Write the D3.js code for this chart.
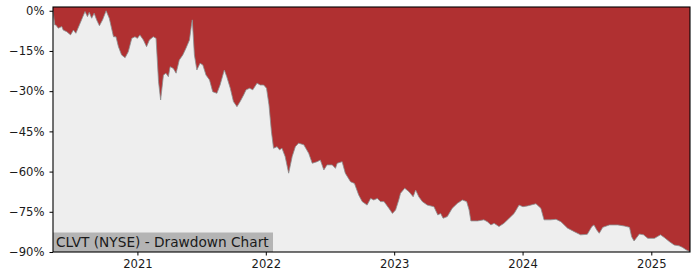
<!DOCTYPE html>
<html>
<head>
<meta charset="utf-8">
<script src="https://cdn.jsdelivr.net/npm/d3@7"></script>
<style>
  body { margin: 0; background: #fff; }
  svg { display: block; font-family: "DejaVu Sans", sans-serif; }
</style>
</head>
<body>
<script>
// Drawdown series (date, percent below running peak)
let dates = [
  "2020-05-06","2020-05-11","2020-05-14","2020-05-21","2020-05-31","2020-06-04","2020-06-14","2020-06-25",
  "2020-07-03","2020-07-10","2020-07-20","2020-07-28","2020-08-05","2020-08-12","2020-08-17","2020-08-24",
  "2020-08-31","2020-09-07","2020-09-15","2020-09-24","2020-10-04","2020-10-13","2020-10-25","2020-11-01",
  "2020-11-08","2020-11-17","2020-11-27","2020-12-06","2020-12-16","2020-12-25","2021-01-01","2021-01-08",
  "2021-01-18","2021-01-27","2021-02-04","2021-02-15","2021-02-23","2021-03-02","2021-03-08","2021-03-16",
  "2021-03-23","2021-03-30","2021-04-04","2021-04-13","2021-04-21","2021-04-30","2021-05-10","2021-05-19",
  "2021-05-29","2021-06-03","2021-06-06","2021-06-12","2021-06-19","2021-06-28","2021-07-06","2021-07-15",
  "2021-07-25","2021-08-03","2021-08-15","2021-08-24","2021-09-05","2021-09-12","2021-09-22","2021-10-01",
  "2021-10-11","2021-10-20","2021-10-30","2021-11-06","2021-11-16","2021-11-25","2021-12-07","2021-12-16",
  "2021-12-26","2022-01-03","2022-01-10","2022-01-17","2022-01-23","2022-02-02","2022-02-09","2022-02-16",
  "2022-02-25","2022-03-07","2022-03-17","2022-03-26","2022-04-04","2022-04-19","2022-05-03","2022-05-13",
  "2022-05-27","2022-06-05","2022-06-15","2022-06-24","2022-07-09","2022-07-18","2022-07-23","2022-08-06",
  "2022-08-15","2022-08-30","2022-09-10","2022-09-22","2022-10-02","2022-10-16","2022-10-26","2022-11-04",
  "2022-11-14","2022-11-23","2022-12-03","2022-12-17","2022-12-27","2023-01-05","2023-01-14","2023-01-19",
  "2023-01-31","2023-02-12","2023-02-24","2023-03-03","2023-03-12","2023-03-22","2023-04-05","2023-04-24",
  "2023-05-05","2023-05-13","2023-05-20","2023-06-01","2023-06-15","2023-06-30","2023-07-14","2023-07-26",
  "2023-08-02","2023-08-07","2023-08-26","2023-09-13","2023-09-23","2023-10-03","2023-10-12","2023-10-26",
  "2023-11-09","2023-11-24","2023-12-08","2023-12-22","2024-01-02","2024-01-15","2024-02-08","2024-02-22",
  "2024-03-02","2024-03-21","2024-04-05","2024-04-19","2024-05-08","2024-05-27","2024-06-14","2024-07-03",
  "2024-07-16","2024-07-22","2024-07-30","2024-08-06","2024-08-16","2024-09-04","2024-09-28","2024-10-16",
  "2024-10-31","2024-11-06","2024-11-13","2024-11-28","2024-12-10","2024-12-22","2025-01-10","2025-01-27",
  "2025-02-07","2025-02-21","2025-03-07","2025-03-21","2025-03-31","2025-04-10","2025-04-21"
];
let drawdown = [
  0, -5.3, -5.3, -6.5, -5.9, -7.2, -7.8, -9.0,
  -7.2, -8.4, -5.3, -2.8, -0.3, -2.2, -0.6, -2.8,
  -0.9, -3.4, -5.6, -3.4, 0, -2.8, -9.7, -9.7,
  -13.4, -16.5, -17.5, -15.3, -10.3, -9.7, -10.3, -9.0,
  -10.9, -13.4, -10.9, -9.7, -10.3, -26.4, -33.3, -24.0,
  -23.3, -24.6, -20.9, -21.5, -23.3, -18.4, -16.5, -14.0,
  -10.9, -6.0, -3.4, -16.5, -22.1, -19.6, -20.2, -24.0,
  -25.8, -30.2, -30.8, -27.7, -22.1, -24.6, -28.9, -33.9,
  -35.8, -33.9, -31.4, -29.5, -28.9, -29.5, -27.0, -27.7,
  -27.7, -28.9, -35.1, -45.1, -51.3, -50.7, -51.9, -51.3,
  -54.4, -60.6, -54.4, -50.7, -49.4, -50.0, -53.2, -56.9,
  -56.3, -55.7, -59.4, -57.5, -57.5, -58.8, -56.9, -56.3,
  -60.6, -63.8, -64.4, -68.7, -71.2, -72.5, -70.0, -70.6,
  -70.0, -71.2, -71.2, -73.7, -75.6, -74.3, -70.6, -68.1,
  -66.2, -67.5, -69.4, -66.9, -69.4, -71.2, -72.5, -73.1,
  -76.2, -75.6, -77.4, -76.8, -73.7, -71.8, -70.6, -71.2,
  -74.3, -78.4, -78.4, -78.0, -78.7, -79.9, -79.3, -80.5,
  -79.3, -77.4, -75.6, -72.5, -73.1, -72.8, -72.0, -73.7,
  -78.0, -78.0, -77.8, -78.7, -81.1, -82.4, -83.6, -83.4,
  -80.5, -79.9, -81.8, -83.0, -80.8, -79.9, -79.9, -80.3,
  -80.8, -84.3, -85.9, -83.3, -83.6, -84.9, -84.9, -83.6,
  -84.6, -86.1, -87.4, -87.7, -88.3, -89.2, -89.9
];
let yTicks = [0, -15, -30, -45, -60, -75, -90];
let xTickYears = [2021, 2022, 2023, 2024, 2025];
let title = "CLVT (NYSE) - Drawdown Chart";

let parse = d3.timeParse("%Y-%m-%d");
let data = dates.map((d, i) => ({ date: parse(d), value: drawdown[i] }));

// margins
let margin = { top: 7, right: 10, bottom: 28, left: 53 };
let width = 700 - margin.left - margin.right;
let height = 280 - margin.top - margin.bottom;

let x = d3.scaleTime(d3.extent(data, d => d.date), [0, width]);
let y = d3.scaleLinear([-90, 1.4], [height, 0]);

let svg = d3.select("body")
    .append("svg")
    .attr("width", 700)
    .attr("height", 280)
    .append("g")
    .attr("transform", `translate(${margin.left}, ${margin.top})`);

// red background = distance to the peak
svg.append("rect")
    .attr("width", width)
    .attr("height", height)
    .attr("fill", "#b03031");

// gray area below drawdown
let area = d3.area()
    .x(d => x(d.date))
    .y0(height)
    .y1(d => y(d.value));

svg.append("path")
    .datum(data)
    .attr("fill", "#eeeeee")
    .attr("d", area);

svg.append("path")
    .datum(data)
    .attr("fill", "none")
    .attr("stroke", "#8a8f90")
    .attr("stroke-width", 0.8)
    .attr("d", d3.line().x(d => x(d.date)).y(d => y(d.value)));

// title box
let label = svg.append("g");
label.append("rect")
    .attr("x", 0)
    .attr("y", height - 19.5)
    .attr("width", 220)
    .attr("height", 19.5)
    .attr("fill", "#b4b4b4");
label.append("text")
    .attr("x", 3)
    .attr("y", height - 5)
    .attr("font-size", "13.7px")
    .attr("fill", "#1a1a1a")
    .text(title);

// axes
let yAxis = d3.axisLeft(y)
    .tickValues(yTicks)
    .tickSize(3.5)
    .tickPadding(5)
    .tickFormat(d => d3.format("d")(d).replace("-", "\u2212") + "%");

let xAxis = d3.axisBottom(x)
    .tickValues(xTickYears.map(yr => new Date(yr, 0, 1)))
    .tickSize(3.5)
    .tickPadding(4)
    .tickFormat(d3.timeFormat("%Y"));

svg.append("g")
    .call(yAxis)
    .call(g => g.select(".domain").remove())
    .selectAll("text")
    .attr("font-size", "11.6px")
    .attr("font-family", "DejaVu Sans")
    .attr("fill", "#1a1a1a");

svg.append("g")
    .attr("transform", `translate(0, ${height})`)
    .call(xAxis)
    .call(g => g.select(".domain").remove())
    .selectAll("text")
    .attr("font-size", "11.6px")
    .attr("font-family", "DejaVu Sans")
    .attr("fill", "#1a1a1a");

svg.selectAll(".tick line").attr("stroke", "#000").attr("stroke-width", 1);

// frame
svg.append("rect")
    .attr("width", width)
    .attr("height", height)
    .attr("fill", "none")
    .attr("stroke", "#000")
    .attr("stroke-width", 1.1);
</script>
</body>
</html>
